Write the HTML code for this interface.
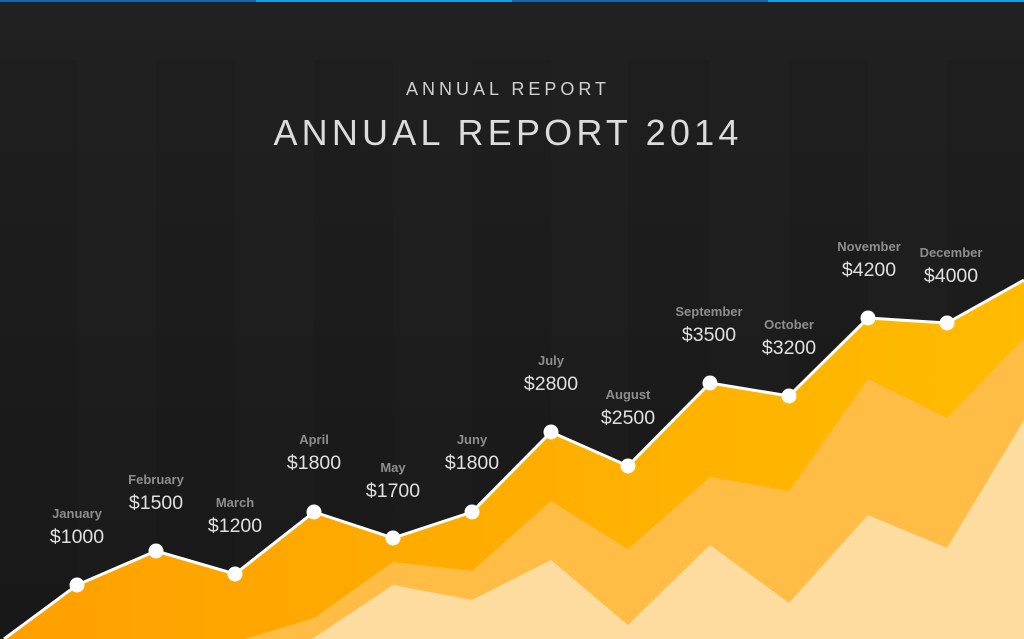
<!DOCTYPE html>
<html><head><meta charset="utf-8"><style>
html,body{margin:0;padding:0;background:#1c1c1c;}
#c{position:relative;width:1024px;height:639px;overflow:hidden;background:linear-gradient(#212121,#1a1a1a);font-family:"Liberation Sans",sans-serif;}
.t1{position:absolute;top:79px;left:0;width:1016px;text-align:center;color:#d0d0d0;font-size:18px;letter-spacing:4px;}
.t2{position:absolute;top:112px;left:0;width:1016px;text-align:center;color:#dcdcdc;font-size:36px;letter-spacing:4.2px;}
.l{position:absolute;width:120px;text-align:center;}
.m{color:#8e8e8e;font-weight:bold;font-size:13px;}
.v{color:#e0e0e0;font-size:19.5px;margin-top:5px;}
</style></head><body><div id="c">
<svg width="1024" height="639" style="position:absolute;left:0;top:0">
<defs><linearGradient id="g" x1="0" x2="1"><stop offset="0" stop-color="#ffa000"/><stop offset="1" stop-color="#ffbb00"/></linearGradient></defs>
<g fill="#000" opacity="0.05">
<rect x="0" y="60" width="77" height="579"/><rect x="156" y="60" width="79" height="579"/><rect x="314" y="60" width="79" height="579"/><rect x="472" y="60" width="79" height="579"/><rect x="628" y="60" width="82" height="579"/><rect x="789" y="60" width="79" height="579"/><rect x="947" y="60" width="77" height="579"/>
</g>
<rect x="0" y="0" width="256" height="2" fill="#1565a8"/><rect x="256" y="0" width="256" height="2" fill="#1e9ee0"/><rect x="512" y="0" width="256" height="2" fill="#1565a8"/><rect x="768" y="0" width="256" height="2" fill="#1e9ee0"/>
<polygon fill="url(#g)" points="4,639 77,585 156,551 235,574 314,512 393,538 472,512 551,432 628,466 710,383 789,396 868,318 947,323 1024,280 1024,639"/>
<polygon fill="#ffbd45" points="245,639 314,618 393,562 472,571 551,501 628,549 710,477 789,491 868,379 947,418 1024,338 1024,639"/>
<polygon fill="#fedc9f" points="312,639 393,585 472,600 551,560 628,625 710,545 789,603 868,515 947,548 1024,420 1024,639"/>
<polyline fill="none" stroke="#fff" stroke-width="3" points="4,639 77,585 156,551 235,574 314,512 393,538 472,512 551,432 628,466 710,383 789,396 868,318 947,323 1024,280"/>
<g fill="#fff">
<circle cx="77" cy="585" r="7.5"/><circle cx="156" cy="551" r="7.5"/><circle cx="235" cy="574" r="7.5"/><circle cx="314" cy="512" r="7.5"/><circle cx="393" cy="538" r="7.5"/><circle cx="472" cy="512" r="7.5"/><circle cx="551" cy="432" r="7.5"/><circle cx="628" cy="466" r="7.5"/><circle cx="710" cy="383" r="7.5"/><circle cx="789" cy="396" r="7.5"/><circle cx="868" cy="318" r="7.5"/><circle cx="947" cy="323" r="7.5"/>
</g></svg>
<div class="t1">ANNUAL REPORT</div>
<div class="t2">ANNUAL REPORT 2014</div>
<div class="l" style="left:17px;top:506px"><div class="m">January</div><div class="v">$1000</div></div>
<div class="l" style="left:96px;top:472px"><div class="m">February</div><div class="v">$1500</div></div>
<div class="l" style="left:175px;top:495px"><div class="m">March</div><div class="v">$1200</div></div>
<div class="l" style="left:254px;top:432px"><div class="m">April</div><div class="v">$1800</div></div>
<div class="l" style="left:333px;top:460px"><div class="m">May</div><div class="v">$1700</div></div>
<div class="l" style="left:412px;top:432px"><div class="m">Juny</div><div class="v">$1800</div></div>
<div class="l" style="left:491px;top:353px"><div class="m">July</div><div class="v">$2800</div></div>
<div class="l" style="left:568px;top:387px"><div class="m">August</div><div class="v">$2500</div></div>
<div class="l" style="left:649px;top:304px"><div class="m">September</div><div class="v">$3500</div></div>
<div class="l" style="left:729px;top:317px"><div class="m">October</div><div class="v">$3200</div></div>
<div class="l" style="left:809px;top:239px"><div class="m">November</div><div class="v">$4200</div></div>
<div class="l" style="left:891px;top:245px"><div class="m">December</div><div class="v">$4000</div></div>
</div></body></html>
